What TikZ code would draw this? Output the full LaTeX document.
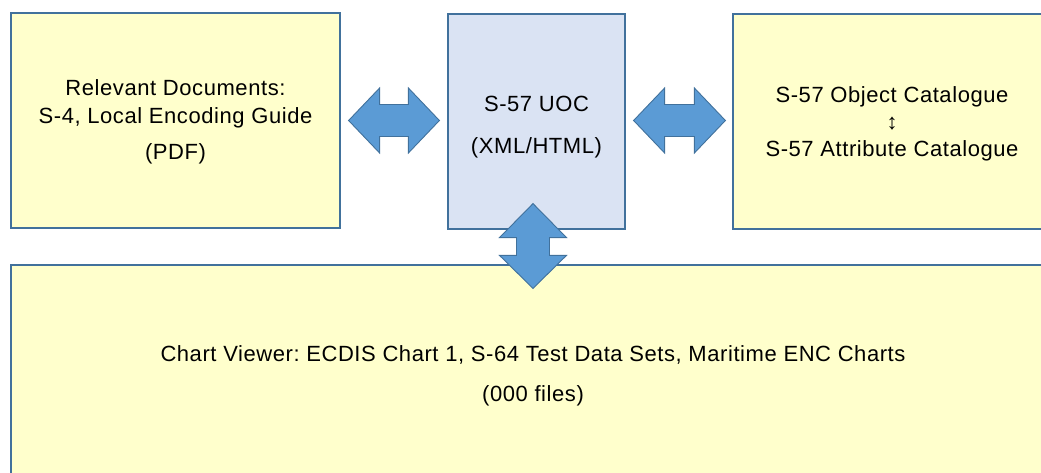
\documentclass[tikz,border=0pt]{standalone}
\usepackage{fontspec}
\setmainfont{Liberation Sans}[LetterSpace=2.6]
\usetikzlibrary{calc}
\frenchspacing
\definecolor{boxyellow}{HTML}{FFFFCC}
\definecolor{boxblue}{HTML}{DAE3F3}
\definecolor{edgeblue}{HTML}{41719C}
\definecolor{arrowblue}{HTML}{5B9BD5}
\tikzset{
  panel/.style={rectangle, draw=edgeblue, line width=1.2pt, inner sep=0pt},
  txt/.style={align=center, inner sep=0pt, text=black},
  barrow/.style={fill=arrowblue, draw=edgeblue, line width=0.9pt, line join=miter},
}
% horizontal double block arrow between two tips #1 (left) and #2 (right)
\newcommand\hdarrow[2]{%
  \path[barrow] let \p1=#1, \p2=#2 in
    (\x1,\y1) -- (\x1+31pt,\y1+32.5pt) -- (\x1+31pt,\y1+16pt)
    -- (\x2-31pt,\y1+16pt) -- (\x2-31pt,\y1+32.5pt) -- (\x2,\y1)
    -- (\x2-31pt,\y1-32.5pt) -- (\x2-31pt,\y1-16pt)
    -- (\x1+31pt,\y1-16pt) -- (\x1+31pt,\y1-32.5pt) -- cycle;}
% vertical double block arrow between two tips #1 (top) and #2 (bottom)
\newcommand\vdarrow[2]{%
  \path[barrow] let \p1=#1, \p2=#2 in
    (\x1,\y1) -- (\x1+33.5pt,\y1-34pt) -- (\x1+16.5pt,\y1-34pt)
    -- (\x1+16.5pt,\y2+33pt) -- (\x1+33.5pt,\y2+33pt) -- (\x1,\y2)
    -- (\x1-33.5pt,\y2+33pt) -- (\x1-16.5pt,\y2+33pt)
    -- (\x1-16.5pt,\y1-34pt) -- (\x1-33.5pt,\y1-34pt) -- cycle;}
\begin{document}
\begin{tikzpicture}[x=1pt,y=1pt]
\useasboundingbox (0,0) rectangle (1041,-473);
\clip (0,0) rectangle (1041,-473);
\fill[white] (0,0) rectangle (1041,-473);

% boxes
\node[panel, fill=boxyellow, minimum width=329pt, minimum height=215pt] (L) at (175.5,-120.5) {};
\node[panel, fill=boxblue, minimum width=177pt, minimum height=215pt] (M) at (536.5,-121.5) {};
\node[panel, fill=boxyellow, minimum width=318pt, minimum height=215pt] (R) at (892,-121.5) {};
\node[panel, fill=boxyellow, minimum width=1044pt, minimum height=222pt] (B) at (533,-376) {};

% texts
\node[txt, font=\fontsize{22}{28}\selectfont] (Lt) at (175.5,-122.3)
  {Relevant Documents:\\S-4, Local Encoding Guide\\[8pt](PDF)};
\node[txt, font=\fontsize{22}{28}\selectfont] (Mt) at (536.5,-127.3)
  {S-57 UOC\\[14pt](XML/HTML)};
\node[txt, font=\fontsize{22}{27}\selectfont] (Rt) at (892,-124.3)
  {S-57 Object Catalogue\\{\fontsize{22}{27}\selectfont ↕}\\S-57 Attribute Catalogue};
\node[txt, font=\fontsize{22}{28}\selectfont] (Bt) at (533,-376.3)
  {Chart Viewer: ECDIS Chart 1, S-64 Test Data Sets, Maritime ENC Charts\\[12pt](000 files)};

% connectors (block double arrows)
\coordinate (la) at ($(L.east)+(8pt,0)$);
\coordinate (lb) at ($(M.west |- L.east)+(-8pt,0)$);
\coordinate (ra) at ($(M.east |- L.east)+(8pt,0)$);
\coordinate (rb) at ($(R.west |- L.east)+(-7pt,0)$);
\coordinate (vt) at ($(B.north |- M.south)+(0,26pt)$);
\coordinate (vb) at ($(B.north)+(0,-24pt)$);
\hdarrow{(la)}{(lb)}
\hdarrow{(ra)}{(rb)}
\vdarrow{(vt)}{(vb)}
\end{tikzpicture}
\end{document}
